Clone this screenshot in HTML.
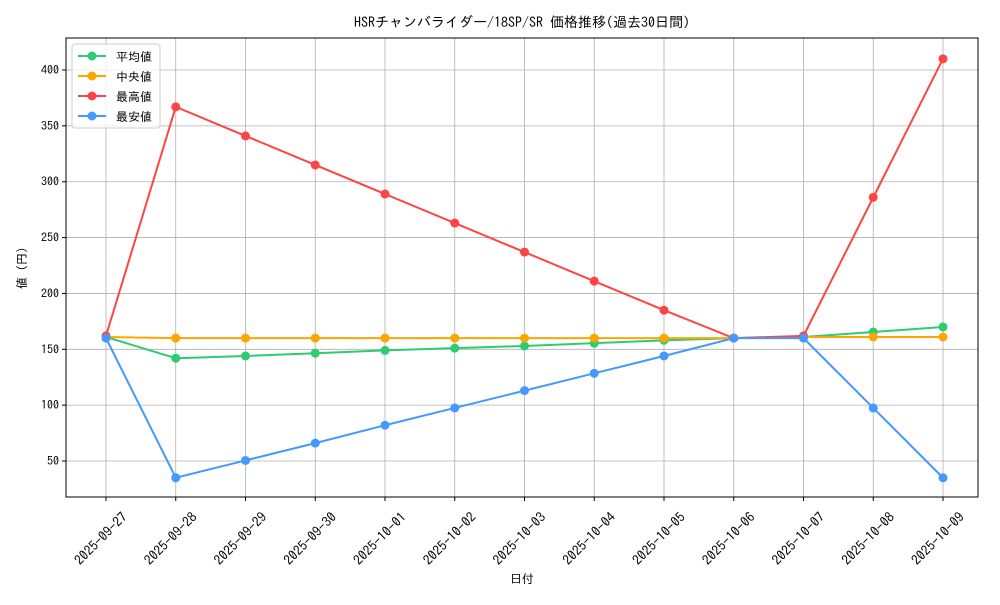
<!DOCTYPE html>
<html><head><meta charset="utf-8"><style>
html,body{margin:0;padding:0;background:#fff;}
svg text{font-family:"IPAGothic","Noto Sans CJK JP",monospace;fill:#000;}
</style></head><body>
<svg width="1000" height="600" xmlns="http://www.w3.org/2000/svg">
<rect width="1000" height="600" fill="#fff"/>
<g id="grid" stroke="#b0b0b0" stroke-width="0.8"></g>
<rect x="66" y="38" width="912" height="459" fill="none" stroke="#000" stroke-width="1"/>
<g id="ticks"></g>
<g id="series"></g>
<text x="522" y="27" font-size="14" text-anchor="middle">HSRチャンバライダー/18SP/SR 価格推移(過去30日間)</text>
<text x="522" y="583" font-size="12" text-anchor="middle">日付</text>
<text transform="translate(26,268) rotate(-90)" font-size="12" text-anchor="middle">値 (円)</text>
<g>
<rect x="72" y="44" width="88" height="84" fill="#fff" fill-opacity="0.8" stroke="#ccc" rx="3"/>
<line x1="78" y1="56" x2="106" y2="56" stroke="#2ecc71" stroke-width="2"/><circle cx="92" cy="56" r="4.5" fill="#2ecc71"/><text x="116" y="61" font-size="12">平均値</text>
<line x1="78" y1="76" x2="106" y2="76" stroke="#ffa500" stroke-width="2"/><circle cx="92" cy="76" r="4.5" fill="#ffa500"/><text x="116" y="81" font-size="12">中央値</text>
<line x1="78" y1="96" x2="106" y2="96" stroke="#ff4444" stroke-width="2"/><circle cx="92" cy="96" r="4.5" fill="#ff4444"/><text x="116" y="101" font-size="12">最高値</text>
<line x1="78" y1="116" x2="106" y2="116" stroke="#4499ff" stroke-width="2"/><circle cx="92" cy="116" r="4.5" fill="#4499ff"/><text x="116" y="121" font-size="12">最安値</text>
</g>
<script>
var NS="http://www.w3.org/2000/svg";
function el(p,t,a,txt){var e=document.createElementNS(NS,t);for(var k in a)e.setAttribute(k,a[k]);if(txt)e.textContent=txt;document.getElementById(p).appendChild(e);return e;}
function X(i){return 106+i*69.75;}
function Y(v){return 461-(v-50)*1.1171;}
var dates=["2025-09-27","2025-09-28","2025-09-29","2025-09-30","2025-10-01","2025-10-02","2025-10-03","2025-10-04","2025-10-05","2025-10-06","2025-10-07","2025-10-08","2025-10-09"];
for(var i=0;i<13;i++){var x=X(i);el("grid","line",{x1:x,y1:38,x2:x,y2:497});
el("ticks","line",{x1:x,y1:497,x2:x,y2:501,stroke:"#000"});
el("ticks","text",{x:0,y:0,"font-size":"13.5","text-anchor":"end",transform:"translate("+(x+22)+",518) rotate(-45)"},dates[i]);}
for(var v=50;v<=400;v+=50){var y=Y(v);el("grid","line",{x1:66,y1:y,x2:978,y2:y});
el("ticks","line",{x1:62,y1:y,x2:66,y2:y,stroke:"#000"});
el("ticks","text",{x:59,y:y+4,"font-size":"12","text-anchor":"end"},String(v));}
var S=[["#2ecc71",[161,142,144,146.5,149,151,153,155.5,158,160,161,165.5,170]],
["#ffa500",[161,160,160,160,160,160,160,160,160,160,161,161,161]],
["#ff4444",[162,367,341,315,289,263,237,211,185,160,162,286,410]],
["#4499ff",[160,35,50.5,66,82,97.5,113,128.5,144,160,160,97.5,35]]];
S.forEach(function(s){var pts=s[1].map(function(v,i){return X(i)+","+Y(v);}).join(" ");
el("series","polyline",{points:pts,fill:"none",stroke:s[0],"stroke-width":"2"});
s[1].forEach(function(v,i){el("series","circle",{cx:X(i),cy:Y(v),r:4.5,fill:s[0]});});});
</script>
</svg>
</body></html>
